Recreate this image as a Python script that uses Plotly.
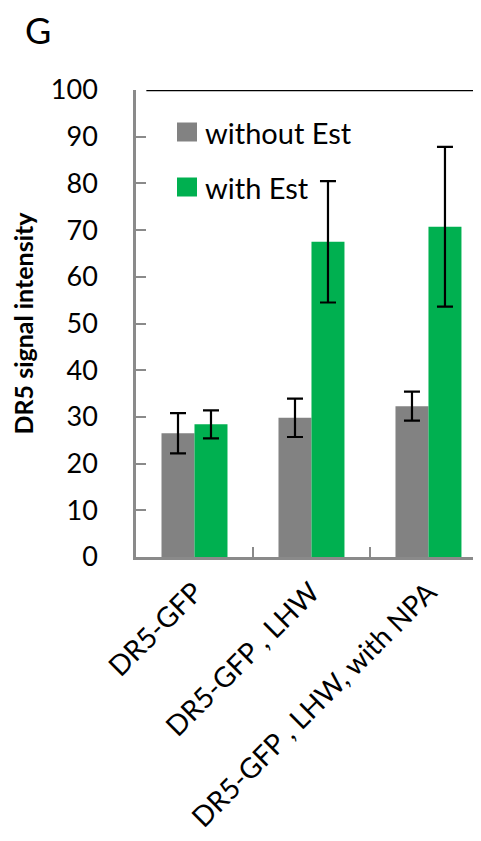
import plotly.graph_objects as go

categories = ["DR5-GFP", "DR5-GFP , LHW", "DR5-GFP , LHW, with NPA"]
series_names = ["without Est", "with Est"]
without_est = [26.5, 29.8, 32.3]
without_err = [4.3, 4.1, 3.1]
with_est = [28.4, 67.5, 70.7]
with_err = [3.0, 13.0, 17.1]
y_ticks = [0, 10, 20, 30, 40, 50, 60, 70, 80, 90, 100]

gray = "#828282"
green = "#00b050"
axis_col = "#8a8a8a"
font_fam = "Lato, 'Open Sans', sans-serif"

fig = go.Figure()
fig.add_bar(x=categories, y=without_est, name=series_names[0], marker_color=gray,
            marker_line_width=0,
            error_y=dict(type="data", array=without_err, color="black", thickness=2.2, width=8),
            showlegend=False)
fig.add_bar(x=categories, y=with_est, name=series_names[1], marker_color=green,
            marker_line_width=0,
            error_y=dict(type="data", array=with_err, color="black", thickness=2.2, width=8),
            showlegend=False)

# top border line at 100
fig.add_shape(type="line", xref="paper", yref="y", x0=0.03, x1=1, y0=100, y1=100,
              line=dict(color="black", width=2.5), layer="above")

# manual legend
leg = [(series_names[0], gray, (557 - 132) / 467), (series_names[1], green, (557 - 187) / 467)]
for name, col, yc in leg:
    fig.add_shape(type="rect", xref="paper", yref="paper",
                  x0=(177 - 136) / 345, x1=(197 - 136) / 345,
                  y0=yc - 9.5 / 467, y1=yc + 9.5 / 467,
                  fillcolor=col, line_width=0)
    fig.add_annotation(text=name, xref="paper", yref="paper",
                       x=(203 - 136) / 345, y=yc, xanchor="left", yanchor="middle",
                       showarrow=False, font=dict(size=29, color="black", family=font_fam))

fig.add_annotation(text="G", xref="paper", yref="paper", x=(38 - 136) / 345, y=1 + (90 - 30) / 467,
                   xanchor="center", yanchor="middle", showarrow=False,
                   font=dict(size=36, color="black", family=font_fam))

fig.update_layout(
    width=473, height=833,
    margin=dict(l=128, r=0, t=82, b=284),
    paper_bgcolor="white", plot_bgcolor="white",
    barmode="group", bargap=0.436, bargroupgap=0,
    font=dict(family=font_fam, color="black"),
    xaxis=dict(range=[-0.5, 2.449], showline=True, linecolor=axis_col, linewidth=2.5,
               ticks="inside", tickson="boundaries", ticklen=10, tickwidth=2, tickcolor=axis_col,
               tickangle=-45, ticklabelstandoff=5,
               tickfont=dict(size=28, family=font_fam, color="black"),
               showgrid=False, zeroline=False, automargin=False),
    yaxis=dict(range=[0, 100], tickvals=y_ticks, showline=True, linecolor=axis_col, linewidth=2.5,
               ticks="inside", ticklen=10, tickwidth=2, tickcolor=axis_col,
               ticklabelstandoff=30,
               tickfont=dict(size=27, family=font_fam, color="black"),
               showgrid=False, zeroline=False, automargin=False,
               title=dict(text="<b>DR5 signal intensity</b>", font=dict(size=25, family=font_fam, color="black"),
                          standoff=12)),
)

fig.write_html("out.html")
